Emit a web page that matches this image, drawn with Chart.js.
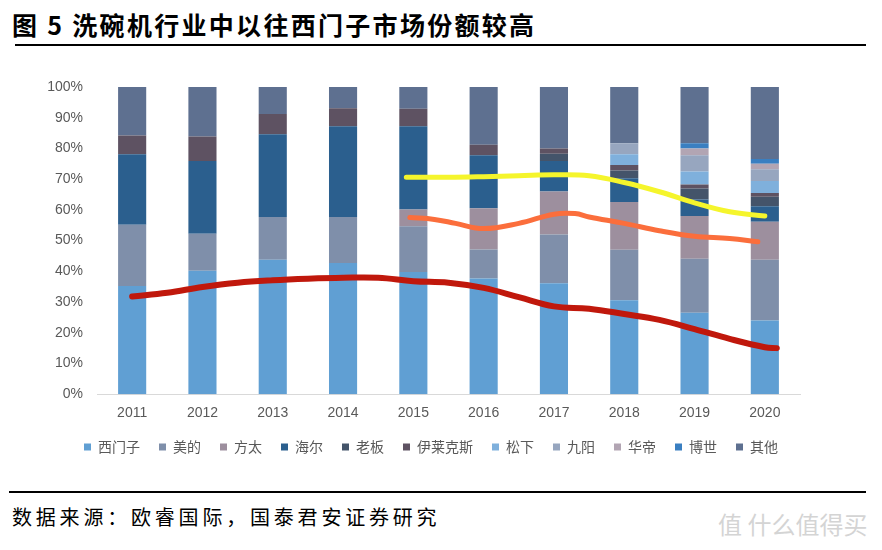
<!DOCTYPE html>
<html>
<head>
<meta charset="utf-8">
<script src="https://cdn.jsdelivr.net/npm/chart.js@4/dist/chart.umd.min.js"></script>
<style>
  body { margin: 0; width: 882px; height: 550px; background: #fff; position: relative; overflow: hidden; font-family: "Noto Sans CJK SC", sans-serif; }
  #title { position: absolute; left: 12px; top: 6px; font-size: 25px; font-weight: 700; letter-spacing: 2.3px; color: #000; white-space: nowrap; }
  #rule1 { position: absolute; left: 15px; top: 44px; width: 851px; height: 2px; background: #000; }
  #rule2 { position: absolute; left: 9px; top: 491px; width: 857px; height: 2px; background: #000; }
  #source { position: absolute; left: 12px; top: 502px; font-size: 20px; letter-spacing: 3.8px; color: #000; white-space: nowrap; }
  #mark { position: absolute; left: 718px; top: 506px; font-size: 24px; color: #d4d4d4; white-space: nowrap; }
  #wrap { position: absolute; left: 0; top: 50px; width: 882px; height: 422px; }
</style>
</head>
<body>
<div id="title">图 5 洗碗机行业中以往西门子市场份额较高</div>
<div id="rule1"></div>
<div id="wrap"><canvas id="share"></canvas></div>
<div id="rule2"></div>
<div id="source">数据来源：欧睿国际，国泰君安证券研究</div>
<div id="mark">值 什么值得买</div>
<script>
const years = ["2011", "2012", "2013", "2014", "2015", "2016", "2017", "2018", "2019", "2020"];
const brands = ["西门子", "美的", "方太", "海尔", "老板", "伊莱克斯", "松下", "九阳", "华帝", "博世", "其他"];

// market share, % of each year
const siemens  = [35.2, 40.2, 43.8, 42.7, 39.8, 37.7, 36.1, 30.6, 26.5, 24.0];
const midea    = [20.0, 12.0, 13.9, 15.0, 14.9,  9.4, 15.9, 16.4, 17.6, 19.8];
const fotile   = [ 0,    0,    0,    0,    5.4, 13.4, 14.0, 15.6, 13.9, 12.3];
const haier    = [22.9, 23.7, 26.9, 29.5, 27.1, 17.3,  9.9,  7.7,  5.4,  5.1];
const robam    = [ 0,    0,    0,    0,    0,    0,    2.4,  2.5,  3.6,  3.1];
const electrolux = [6.1, 8.0,  6.6,  5.9,  5.7,  3.4,  1.7,  1.8,  1.3,  1.2];
const panasonic = [0,    0,    0,    0,    0,    0,    0,    3.5,  4.2,  3.9];
const joyoung  = [ 0,    0,    0,    0,    0,    0,    0,    3.6,  5.3,  3.8];
const vatti    = [ 0,    0,    0,    0,    0,    0,    0,    0,    2.2,  1.8];
const bosch    = [ 0,    0,    0,    0,    0,    0,    0,    0,    1.7,  1.6];
const others   = [15.8, 16.1,  8.8,  6.9,  7.1, 18.8, 20.0, 18.3, 18.3, 23.4];

const yTicks = [0, 10, 20, 30, 40, 50, 60, 70, 80, 90, 100];

// hand-drawn marker lines over the bars (x in years, y in %)
const redX = [2011, 2011.5, 2012, 2012.5, 2013, 2013.5, 2014, 2014.5, 2015, 2015.5, 2016, 2016.5, 2017, 2017.5, 2018, 2018.5, 2019, 2019.5, 2020, 2020.17];
const redY = [31.8, 33.0, 34.9, 36.3, 37.1, 37.6, 37.9, 37.9, 36.8, 36.3, 34.6, 31.6, 28.6, 27.8, 26.1, 24.2, 21.2, 18.0, 15.3, 15.0];
const orangeX = [2014.95, 2015.3, 2015.6, 2016, 2016.5, 2017, 2017.3, 2017.5, 2018, 2018.5, 2019, 2019.5, 2019.9];
const orangeY = [57.5, 56.9, 55.6, 53.9, 55.6, 58.6, 58.8, 57.7, 55.6, 53.2, 51.4, 50.7, 49.6];
const yellowX = [2014.9, 2015.5, 2016, 2016.5, 2017, 2017.5, 2018, 2018.5, 2019, 2019.5, 2020];
const yellowY = [70.6, 70.6, 70.8, 71.1, 71.4, 71.1, 68.9, 65.9, 62.3, 59.4, 58.0];

const series = [siemens, midea, fotile, haier, robam, electrolux, panasonic, joyoung, vatti, bosch, others];
const colours = ["#609fd3", "#7f8faa", "#9d8f9e", "#2b5f8e", "#44546a", "#5e5262", "#7fb0dc", "#97a6bf", "#b2a5b3", "#3a7fc1", "#5e7090"];

function pts(xs, ys) {
  return xs.map((x, i) => ({ x: x, y: ys[i] }));
}

let datasets = [];
for (let i = 0; i < brands.length; i++) {
  datasets.push({
    type: "bar",
    label: brands[i],
    data: series[i],
    xAxisID: "x",
    yAxisID: "y",
    backgroundColor: colours[i],
    borderWidth: 0,
    grouped: false,
    barPercentage: 0.4,
    categoryPercentage: 1.0,
    order: 2
  });
}

const marks = [
  { xs: redX, ys: redY, colour: "#c0180c", width: 6 },
  { xs: orangeX, ys: orangeY, colour: "#fb6e3c", width: 5 },
  { xs: yellowX, ys: yellowY, colour: "#f5f52c", width: 5 }
];
marks.forEach(m => {
  datasets.push({
    type: "line",
    label: "",
    data: pts(m.xs, m.ys),
    xAxisID: "xl",
    yAxisID: "yl",
    borderColor: m.colour,
    borderWidth: m.width,
    borderCapStyle: "round",
    borderJoinStyle: "round",
    pointRadius: 0,
    tension: 0.4,
    fill: false,
    order: 1
  });
});

// the source legend sits centred under the plot, not the whole canvas
const shiftLegend = {
  id: "shiftLegend",
  afterLayout(chart) {
    chart.legend.left += 31;
    chart.legend.right += 31;
  }
};

const ctx = document.getElementById("share").getContext("2d");
new Chart(ctx, {
  type: "bar",
  data: { labels: years, datasets: datasets },
  plugins: [shiftLegend],
  options: {
    responsive: true,
    maintainAspectRatio: false,
    animation: false,
    layout: { padding: { left: 0, right: 82, top: 37, bottom: 8 } },
    scales: {
      x: {
        stacked: true,
        grid: { display: false, drawTicks: false },
        border: { color: "#d9d9d9", width: 1 },
        afterFit: axis => { axis.height -= 12; },
        ticks: { color: "#595959", font: { family: "Liberation Sans, Arial", size: 14 }, padding: 11 }
      },
      y: {
        stacked: true,
        min: 0,
        max: 100,
        afterBuildTicks: axis => { axis.ticks = yTicks.map(v => ({ value: v })); },
        afterFit: axis => { axis.width = 97; },
        grid: { display: false, drawTicks: false },
        border: { display: false },
        ticks: {
          color: "#595959",
          font: { family: "Liberation Sans, Arial", size: 14 },
          padding: 14,
          callback: v => v + "%"
        }
      },
      xl: { type: "linear", min: 2010.5, max: 2020.5, offset: false, display: false },
      yl: { type: "linear", min: 0, max: 100, display: false }
    },
    plugins: {
      legend: {
        position: "bottom",
        labels: {
          filter: item => item.datasetIndex < brands.length,
          boxWidth: 7,
          boxHeight: 7,
          padding: 19,
          color: "#595959",
          font: { family: "Noto Sans CJK SC", size: 14 }
        }
      },
      tooltip: { enabled: false }
    }
  }
});
</script>
</body>
</html>
